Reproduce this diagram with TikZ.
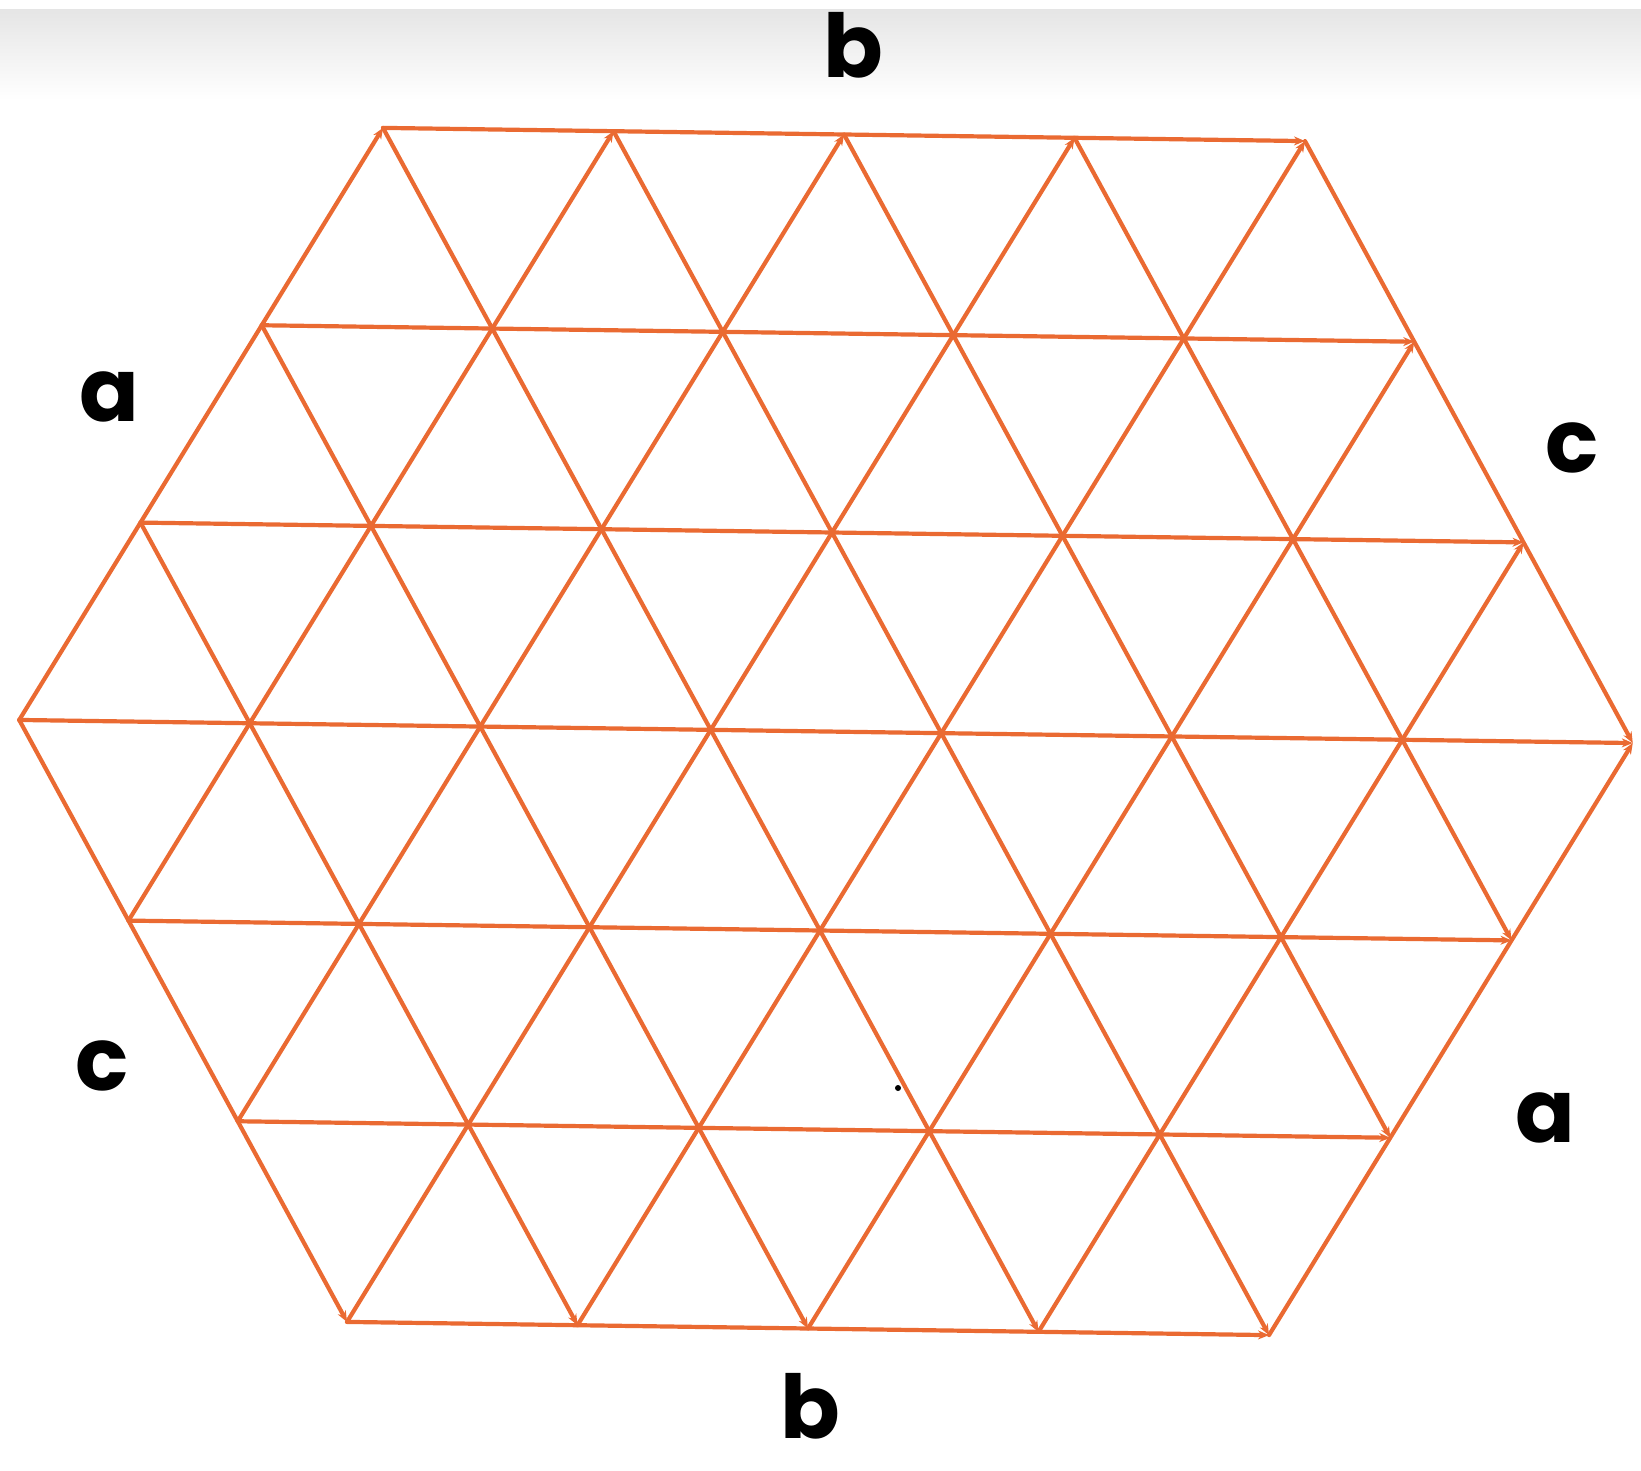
\documentclass[tikz,border=0pt]{standalone}
\usepackage{fontspec}
\newfontfamily\hand{Poppins}
\usetikzlibrary{arrows.meta}
\definecolor{ink}{RGB}{234,106,50}
\begin{document}
\begin{tikzpicture}[x=0.5pt,y=-0.5pt,
  gridline/.style={draw=ink, line width=2.1pt, line cap=round, -{Stealth[length=5.5pt,width=4.5pt]}},
  lab/.style={font=\hand\bfseries\fontsize{44}{50}\selectfont, text=black, inner sep=0pt}]
\useasboundingbox (0,0) rectangle (1641,1470);
\shade[top color=black!10, bottom color=white] (0,10) rectangle (1641,100);
% labels
\begin{scope}
  \clip (0,10) rectangle (1641,200);
  \node[lab, anchor=base] (btop) at (853,78) {b};
\end{scope}
\node[lab] (aleft) at (109,397) {a};
\node[lab] (cright) at (1572,448) {c};
\node[lab] (cleft) at (102,1066) {c};
\node[lab] (aright) at (1545,1118) {a};
\node[lab] (bbottom) at (810,1406) {b};
\fill (898,1088) circle (3);
% grid
\begin{scope}[shift={(826,731.5)}, x={(115.25pt,-1.65pt)}, y={(-3pt,-99.5pt)}]
  \foreach \j/\h in {-3/2,-2/2.5,-1/3,0/3.5,1/3,2/2.5,3/2}
    \draw[gridline] (-\h,\j) -- (\h,\j);
  \foreach \a/\b/\c/\d in {-3.5/0/-2/3, -3/-1/-1/3, -2.5/-2/0/3, -2/-3/1/3, -1/-3/2/3, 0/-3/2.5/2, 1/-3/3/1, 2/-3/3.5/0}
    \draw[gridline] (\a,\b) -- (\c,\d);
  \foreach \a/\b/\c/\d in {-3.5/0/-2/-3, -3/1/-1/-3, -2.5/2/0/-3, -2/3/1/-3, -1/3/2/-3, 0/3/2.5/-2, 1/3/3/-1, 2/3/3.5/0}
    \draw[gridline] (\a,\b) -- (\c,\d);
\end{scope}
\end{tikzpicture}
\end{document}
